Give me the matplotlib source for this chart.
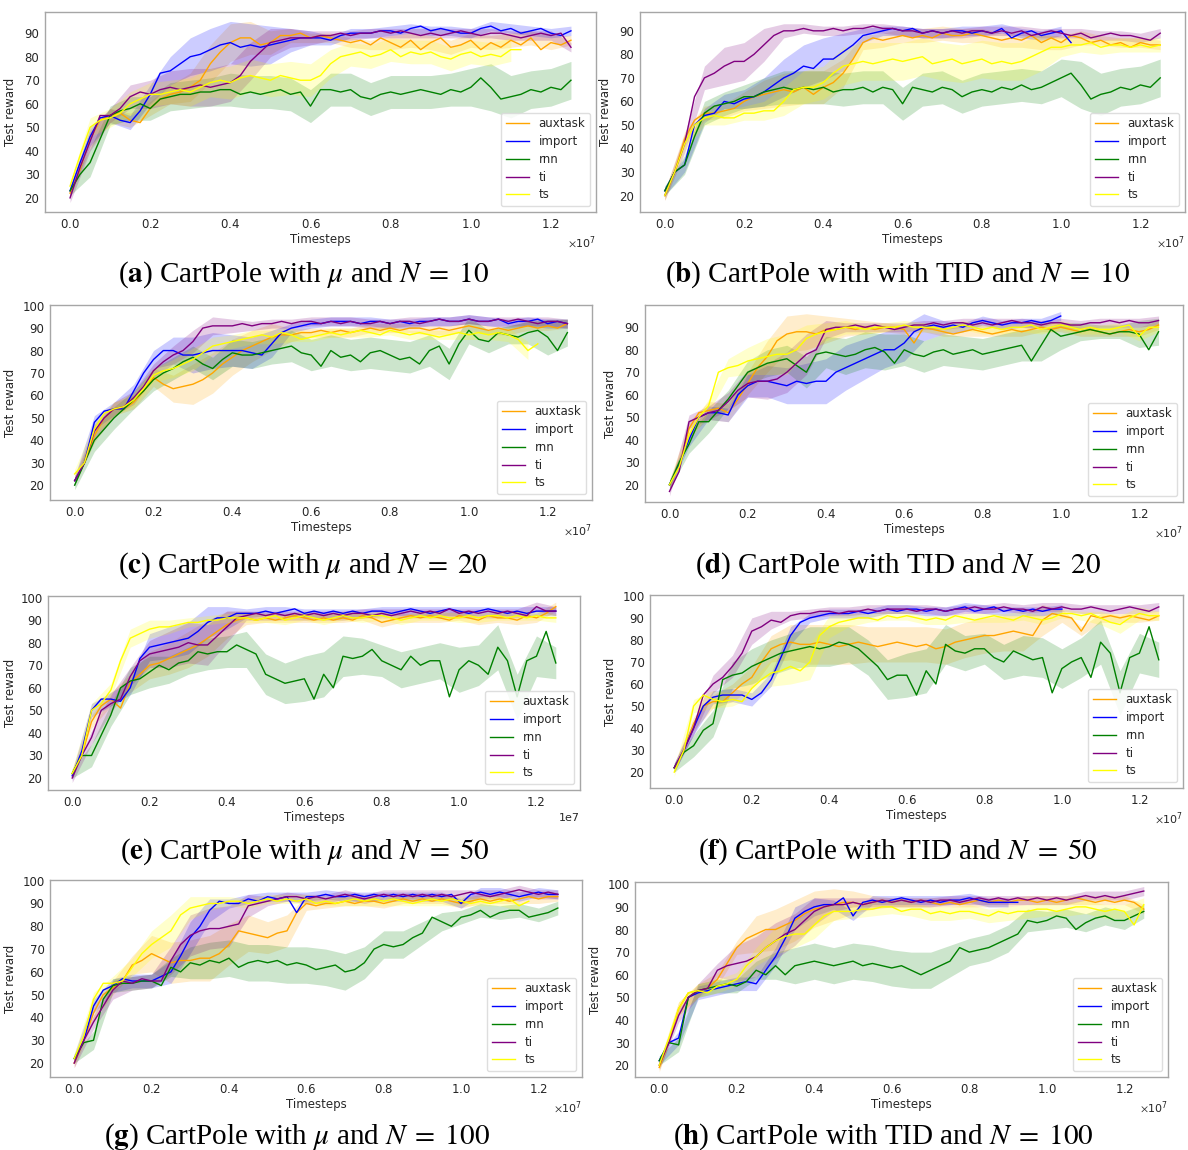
import numpy as np
import matplotlib
matplotlib.use("Agg")
import matplotlib.pyplot as plt
from matplotlib.ticker import MultipleLocator

W, H = 1188, 1150
STEP = 0.025e7  # spacing of the sampled points (timesteps)
NAMES = ["auxtask", "import", "rnn", "ti", "ts"]
COLORS = {"auxtask": "orange", "import": "blue", "rnn": "green",
          "ti": "purple", "ts": "yellow"}

# ---------------- (a) mu, N=10 ----------------
a_auxtask = [22, 32, 45, 53, 55, 56, 53, 52, 58, 62, 64, 65, 67, 70, 77, 82, 86, 88, 88, 85, 86, 89, 89, 90, 88, 89, 88, 87, 86, 87, 85, 88, 86, 84, 87, 83, 86, 88, 84, 85, 87, 83, 86, 84, 87, 85, 88, 83, 86, 85, 87]
a_import = [23, 35, 46, 54, 55, 53, 52, 57, 64, 73, 74, 77, 80, 81, 83, 85, 86, 84, 85, 84, 85, 86, 87, 88, 88, 88, 87, 89, 90, 90, 90, 91, 91, 90, 92, 93, 91, 92, 91, 90, 90, 92, 93, 91, 92, 90, 91, 92, 90, 89, 91]
a_rnn = [23, 30, 35, 45, 55, 57, 58, 60, 58, 62, 63, 64, 64, 65, 65, 66, 66, 64, 65, 64, 65, 66, 64, 65, 59, 66, 66, 65, 66, 63, 62, 64, 65, 64, 65, 66, 65, 64, 66, 65, 67, 71, 67, 62, 63, 64, 66, 65, 67, 66, 70]
a_ti = [20, 33, 44, 55, 55, 58, 63, 65, 64, 66, 67, 66, 67, 68, 67, 68, 69, 72, 78, 82, 86, 87, 88, 88, 88, 89, 89, 90, 89, 90, 90, 91, 90, 91, 90, 89, 90, 89, 90, 91, 90, 89, 90, 90, 89, 88, 89, 90, 89, 90, 84]
a_ts = [25, 38, 50, 53, 54, 56, 60, 62, 64, 64, 65, 66, 65, 67, 69, 70, 69, 71, 72, 71, 70, 72, 71, 70, 70, 72, 77, 80, 81, 82, 80, 81, 83, 80, 82, 81, 82, 80, 79, 81, 82, 80, 81, 80, 83, 83]
a_auxtask_band = [2, 4, 3, 3, 3, 4, 6, 8, 8, 7, 5, 3, 2, 2, 2, 2, 3, 3, 3, 3, 3, 3, 3, 3, 3, 2]
a_import_band = [2, 4, 3, 3, 4, 6, 8, 9, 9, 9, 8, 5, 3, 2, 2, 2, 2, 2, 2, 2, 2, 2, 2, 2, 2, 2]
a_rnn_band = [2, 6, 4, 5, 5, 6, 6, 6, 7, 7, 7, 7, 7, 7, 7, 7, 7, 7, 7, 7, 8, 10, 9, 8, 8, 8]
a_ti_band = [2, 4, 3, 5, 6, 7, 8, 8, 8, 8, 6, 4, 3, 2, 2, 2, 2, 2, 2, 2, 2, 2, 2, 2, 2, 2]
a_ts_band = [2, 4, 4, 5, 5, 5, 6, 6, 7, 7, 7, 7, 7, 6, 5, 5, 5, 5, 5, 5, 5, 5, 5]

# ---------------- (b) TID, N=10 ----------------
b_auxtask = [20, 30, 44, 52, 55, 55, 56, 57, 60, 62, 63, 64, 65, 64, 66, 63, 66, 68, 72, 78, 85, 87, 86, 87, 88, 87, 88, 87, 89, 88, 88, 89, 88, 87, 86, 87, 86, 88, 85, 87, 85, 88, 87, 85, 86, 84, 85, 83, 85, 84, 84]
b_import = [22, 30, 33, 50, 54, 55, 60, 59, 61, 62, 64, 67, 70, 72, 75, 74, 78, 78, 81, 84, 88, 89, 90, 91, 90, 91, 89, 90, 89, 90, 90, 89, 90, 89, 91, 87, 89, 90, 88, 89, 90, 85]
b_rnn = [22, 30, 33, 45, 55, 58, 59, 60, 62, 62, 64, 65, 66, 65, 66, 65, 66, 64, 65, 65, 66, 64, 66, 65, 59, 66, 65, 64, 66, 65, 62, 64, 65, 64, 66, 65, 67, 65, 66, 68, 70, 72, 67, 61, 63, 64, 66, 65, 67, 66, 70]
b_ti = [20, 30, 42, 62, 70, 72, 75, 77, 77, 80, 84, 88, 90, 90, 91, 90, 90, 91, 90, 91, 91, 92, 91, 91, 90, 90, 89, 90, 89, 90, 89, 90, 90, 89, 90, 89, 90, 88, 89, 90, 89, 88, 89, 87, 88, 89, 88, 88, 87, 86, 89]
b_ts = [20, 30, 42, 50, 53, 54, 53, 53, 55, 55, 56, 56, 60, 65, 66, 66, 68, 72, 75, 76, 77, 76, 77, 78, 77, 78, 79, 76, 77, 78, 76, 77, 78, 76, 77, 76, 77, 79, 81, 83, 83, 84, 84, 85, 83, 84, 84, 83, 84, 83, 84]
b_auxtask_band = [2, 3, 3, 3, 4, 6, 7, 7, 7, 6, 3, 3, 3, 3, 3, 3, 3, 3, 3, 3, 3, 3, 2, 2, 2, 2]
b_import_band = [2, 3, 3, 3, 4, 6, 8, 9, 9, 8, 3, 2, 2, 2, 2, 2, 2, 2, 2, 2, 2]
b_rnn_band = [2, 4, 5, 5, 5, 6, 7, 7, 7, 7, 7, 7, 7, 7, 7, 7, 7, 7, 7, 7, 8, 10, 9, 8, 8, 8]
b_ti_band = [2, 4, 5, 8, 8, 7, 3, 2, 2, 2, 2, 2, 2, 2, 2, 2, 2, 2, 2, 2, 2, 2, 2, 2, 2, 2]
b_ts_band = [2, 3, 3, 3, 3, 4, 6, 7, 7, 8, 8, 8, 8, 8, 8, 8, 8, 8, 8, 8, 4, 3, 3, 3, 3, 3]

# ---------------- (c) mu, N=20 ----------------
c_auxtask = [22, 30, 42, 50, 54, 54, 57, 62, 68, 65, 63, 64, 65, 67, 70, 74, 77, 80, 82, 84, 86, 87, 87, 88, 88, 89, 88, 89, 88, 89, 90, 89, 90, 89, 90, 90, 89, 90, 89, 90, 91, 90, 89, 90, 89, 90, 91, 90, 91, 90, 92]
c_import = [22, 30, 48, 53, 54, 54, 62, 70, 76, 80, 80, 78, 78, 79, 80, 80, 80, 80, 79, 78, 83, 88, 90, 91, 92, 92, 93, 93, 93, 92, 93, 93, 92, 93, 92, 93, 93, 94, 93, 93, 94, 93, 93, 94, 92, 93, 93, 94, 92, 93, 92]
c_rnn = [20, 30, 40, 45, 50, 54, 58, 62, 67, 70, 72, 75, 77, 74, 72, 76, 79, 78, 78, 79, 80, 81, 82, 79, 78, 73, 80, 77, 78, 75, 79, 80, 78, 76, 77, 74, 80, 82, 74, 83, 89, 85, 84, 88, 87, 86, 88, 89, 86, 80, 88]
c_ti = [22, 30, 44, 50, 54, 55, 59, 64, 71, 75, 78, 80, 84, 90, 91, 91, 91, 92, 91, 92, 92, 93, 92, 93, 93, 92, 93, 92, 93, 92, 92, 93, 92, 93, 93, 92, 93, 94, 93, 93, 94, 93, 93, 94, 93, 94, 93, 92, 93, 93, 92]
c_ts = [25, 30, 45, 52, 54, 55, 58, 63, 69, 71, 72, 74, 76, 79, 82, 83, 84, 85, 86, 87, 86, 88, 87, 85, 86, 87, 88, 87, 88, 89, 88, 87, 89, 88, 87, 88, 87, 86, 87, 88, 87, 88, 87, 88, 87, 85, 80, 83]
c_auxtask_band = [2, 3, 3, 3, 4, 6, 9, 9, 8, 7, 6, 3, 2, 2, 2, 2, 2, 2, 2, 2, 2, 2, 2, 2, 2, 2]
c_import_band = [2, 3, 3, 3, 4, 6, 8, 8, 7, 7, 6, 2, 2, 2, 2, 2, 2, 2, 2, 2, 2, 2, 2, 2, 2, 2]
c_rnn_band = [2, 5, 5, 4, 5, 5, 5, 5, 6, 6, 6, 7, 7, 7, 7, 7, 7, 7, 7, 7, 6, 5, 4, 5, 8, 6]
c_ti_band = [2, 3, 3, 3, 3, 4, 5, 4, 3, 2, 2, 2, 2, 2, 2, 2, 2, 2, 2, 2, 2, 2, 2, 2, 2, 2]
c_ts_band = [2, 3, 3, 3, 3, 4, 5, 4, 3, 3, 3, 3, 2, 2, 2, 2, 2, 2, 2, 2, 2, 2, 3, 4]

# ---------------- (d) TID, N=20 ----------------
d_auxtask = [20, 28, 45, 52, 53, 54, 52, 58, 65, 72, 77, 84, 87, 88, 88, 87, 89, 89, 90, 89, 90, 89, 90, 90, 89, 83, 90, 89, 88, 87, 88, 89, 88, 87, 88, 89, 88, 89, 90, 89, 90, 89, 88, 89, 88, 87, 88, 89, 88, 89, 91]
d_import = [20, 29, 40, 50, 52, 52, 51, 60, 64, 66, 66, 65, 64, 66, 65, 66, 66, 70, 72, 74, 76, 78, 80, 80, 83, 88, 90, 91, 90, 91, 90, 92, 93, 92, 91, 92, 92, 93, 92, 93, 95]
d_rnn = [20, 30, 38, 48, 48, 53, 58, 64, 70, 72, 74, 75, 76, 73, 70, 78, 79, 78, 77, 78, 80, 81, 79, 74, 80, 78, 77, 79, 80, 78, 79, 80, 78, 79, 80, 81, 82, 75, 82, 89, 86, 87, 88, 89, 88, 87, 88, 88, 87, 80, 88]
d_ti = [17, 26, 48, 50, 52, 53, 57, 62, 65, 66, 66, 67, 70, 74, 78, 80, 89, 90, 90, 91, 90, 91, 90, 89, 90, 91, 91, 92, 91, 92, 92, 91, 92, 91, 92, 93, 92, 92, 91, 92, 92, 91, 91, 92, 92, 93, 92, 93, 92, 92, 93]
d_ts = [20, 28, 42, 50, 55, 70, 72, 73, 75, 76, 77, 78, 78, 80, 85, 87, 88, 89, 90, 90, 89, 90, 90, 90, 91, 90, 90, 90, 89, 90, 91, 90, 89, 90, 89, 90, 90, 91, 89, 90, 91, 90, 89, 90, 89, 89, 90, 91, 86, 90, 90]
d_auxtask_band = [2, 3, 4, 4, 5, 7, 8, 8, 6, 4, 3, 2, 2, 2, 2, 2, 2, 2, 2, 2, 2, 2, 2, 2, 2, 2]
d_import_band = [2, 3, 3, 3, 5, 7, 8, 9, 10, 10, 9, 8, 8, 6, 3, 2, 2, 2, 2, 2, 2]
d_rnn_band = [2, 4, 5, 4, 5, 6, 6, 7, 7, 8, 8, 8, 7, 7, 7, 7, 7, 7, 7, 7, 6, 4, 3, 3, 6, 6]
d_ti_band = [2, 3, 3, 4, 6, 8, 9, 9, 4, 2, 2, 2, 2, 2, 2, 2, 2, 2, 2, 2, 2, 2, 2, 2, 2, 2]
d_ts_band = [2, 3, 3, 4, 6, 8, 9, 6, 4, 3, 2, 2, 2, 2, 2, 2, 2, 2, 2, 2, 2, 2, 2, 2, 2, 2]

# ---------------- (e) mu, N=50 ----------------
e_auxtask = [22, 30, 45, 52, 55, 51, 62, 66, 70, 71, 73, 75, 77, 79, 82, 85, 88, 90, 91, 90, 91, 90, 91, 92, 91, 90, 91, 90, 91, 90, 92, 91, 89, 90, 91, 92, 91, 92, 91, 90, 92, 91, 90, 92, 91, 91, 90, 92, 91, 93, 96]
e_import = [21, 32, 50, 55, 55, 54, 60, 73, 78, 79, 80, 81, 82, 85, 89, 91, 91, 93, 93, 93, 94, 93, 94, 95, 93, 94, 93, 94, 93, 94, 93, 94, 94, 93, 94, 95, 94, 93, 94, 95, 94, 93, 94, 95, 94, 93, 94, 93, 94, 94, 94]
e_rnn = [22, 30, 30, 39, 48, 60, 63, 64, 67, 70, 68, 71, 72, 76, 75, 76, 76, 79, 77, 75, 66, 64, 62, 63, 64, 55, 66, 60, 74, 73, 74, 77, 72, 70, 68, 74, 70, 72, 72, 56, 68, 72, 70, 66, 78, 72, 56, 72, 74, 85, 71]
e_ti = [20, 30, 38, 50, 53, 55, 65, 72, 75, 76, 77, 78, 80, 79, 79, 83, 87, 91, 92, 93, 92, 93, 92, 93, 92, 93, 92, 93, 92, 93, 93, 92, 93, 92, 93, 94, 93, 94, 93, 95, 93, 94, 93, 94, 93, 94, 93, 92, 96, 94, 94]
e_ts = [22, 30, 50, 53, 59, 72, 82, 84, 86, 87, 87, 88, 89, 89, 90, 90, 91, 91, 91, 90, 91, 92, 90, 91, 92, 91, 90, 91, 92, 91, 91, 92, 92, 91, 90, 91, 92, 91, 92, 91, 91, 92, 91, 92, 92, 91, 92, 91, 92, 91, 91]
e_auxtask_band = [2, 3, 3, 4, 6, 7, 8, 8, 6, 3, 2, 2, 2, 2, 2, 2, 2, 2, 2, 2, 2, 2, 2, 2, 2, 2]
e_import_band = [2, 3, 3, 3, 6, 7, 7, 7, 5, 2, 2, 2, 2, 2, 2, 2, 2, 2, 2, 2, 2, 2, 2, 2, 2, 2]
e_rnn_band = [2, 5, 5, 6, 7, 6, 6, 7, 7, 8, 9, 9, 10, 10, 9, 8, 7, 8, 8, 8, 10, 9, 10, 10, 9, 7]
e_ti_band = [2, 3, 4, 4, 6, 8, 9, 9, 7, 2, 2, 2, 2, 2, 2, 2, 2, 2, 2, 2, 2, 2, 2, 2, 2, 2]
e_ts_band = [2, 3, 3, 4, 4, 3, 2, 2, 2, 2, 2, 2, 2, 2, 2, 2, 2, 2, 2, 2, 2, 2, 2, 2, 2, 2]

# ---------------- (f) TID, N=50 ----------------
f_auxtask = [22, 30, 42, 50, 52, 52, 56, 60, 63, 70, 76, 78, 79, 78, 78, 79, 78, 77, 78, 79, 78, 77, 78, 79, 78, 77, 78, 76, 77, 79, 80, 81, 82, 82, 83, 84, 83, 82, 89, 92, 91, 90, 84, 91, 90, 91, 90, 91, 90, 89, 91]
f_import = [22, 30, 40, 50, 54, 55, 55, 55, 53, 56, 62, 72, 82, 88, 90, 91, 92, 92, 92, 93, 92, 93, 94, 93, 94, 94, 93, 94, 93, 94, 95, 93, 94, 95, 93, 94, 93, 94, 93, 94, 94]
f_rnn = [22, 29, 32, 39, 42, 62, 64, 65, 68, 70, 72, 74, 75, 76, 77, 76, 77, 79, 78, 76, 72, 68, 62, 64, 64, 55, 66, 60, 78, 75, 74, 76, 76, 72, 70, 75, 73, 71, 72, 56, 67, 70, 72, 63, 79, 74, 56, 72, 74, 86, 71]
f_ti = [22, 30, 40, 55, 60, 63, 68, 74, 84, 86, 89, 88, 91, 92, 92, 93, 93, 92, 93, 93, 94, 93, 94, 94, 94, 93, 94, 94, 93, 94, 94, 95, 94, 94, 95, 94, 94, 93, 95, 94, 95, 94, 94, 95, 94, 93, 94, 95, 94, 93, 95]
f_ts = [20, 30, 50, 55, 53, 52, 53, 52, 58, 62, 65, 66, 68, 66, 70, 82, 86, 88, 89, 90, 90, 89, 91, 90, 91, 90, 89, 90, 89, 91, 90, 89, 90, 91, 90, 89, 91, 90, 89, 90, 92, 92, 91, 92, 90, 88, 87, 90, 92, 91, 91]
f_auxtask_band = [2, 3, 3, 4, 5, 6, 8, 9, 9, 9, 8, 8, 8, 8, 8, 8, 8, 8, 8, 7, 3, 2, 2, 2, 2, 2]
f_import_band = [2, 3, 3, 3, 3, 3, 4, 2, 2, 2, 2, 2, 2, 2, 2, 2, 2, 2, 2, 2, 2]
f_rnn_band = [2, 5, 6, 6, 8, 8, 8, 9, 9, 8, 8, 9, 10, 10, 9, 8, 7, 8, 9, 9, 9, 9, 10, 10, 9, 8]
f_ti_band = [2, 3, 4, 5, 6, 4, 2, 2, 2, 2, 2, 2, 2, 2, 2, 2, 2, 2, 2, 2, 2, 2, 2, 2, 2, 2]
f_ts_band = [2, 3, 4, 3, 4, 6, 8, 8, 5, 3, 2, 2, 2, 2, 2, 2, 2, 2, 2, 2, 2, 2, 3, 4, 3, 2]

# ---------------- (g) mu, N=100 ----------------
g_auxtask = [20, 30, 42, 50, 53, 56, 63, 65, 68, 66, 64, 65, 65, 66, 66, 68, 72, 78, 77, 76, 75, 77, 78, 86, 90, 89, 90, 90, 91, 90, 91, 91, 90, 91, 92, 91, 92, 91, 92, 91, 90, 91, 92, 91, 92, 91, 92, 93, 92, 93, 93]
g_import = [22, 30, 45, 52, 54, 57, 56, 56, 56, 58, 60, 67, 75, 80, 87, 91, 90, 90, 92, 91, 93, 92, 93, 86, 93, 93, 94, 93, 93, 94, 93, 94, 93, 94, 93, 94, 93, 94, 93, 94, 90, 94, 95, 94, 95, 94, 93, 94, 95, 94, 94]
g_rnn = [22, 29, 30, 48, 54, 55, 55, 56, 56, 54, 62, 60, 64, 63, 65, 64, 66, 62, 64, 65, 64, 65, 63, 64, 63, 61, 62, 63, 60, 61, 64, 70, 72, 71, 72, 75, 77, 84, 82, 80, 84, 85, 87, 84, 86, 87, 87, 84, 85, 86, 88]
g_ti = [20, 30, 38, 45, 52, 56, 55, 57, 56, 56, 65, 72, 76, 78, 79, 79, 80, 81, 89, 90, 91, 92, 93, 93, 92, 93, 92, 93, 94, 93, 92, 93, 94, 93, 94, 93, 94, 93, 94, 93, 94, 95, 94, 93, 94, 95, 96, 95, 94, 95, 94]
g_ts = [22, 32, 48, 55, 55, 56, 62, 68, 72, 75, 78, 85, 88, 89, 90, 90, 91, 91, 90, 91, 92, 91, 92, 91, 92, 90, 91, 90, 91, 92, 91, 92, 91, 92, 91, 90, 91, 92, 91, 92, 91, 90, 91, 90, 91, 92, 89, 91]
g_auxtask_band = [2, 3, 3, 4, 8, 9, 9, 10, 9, 8, 7, 7, 3, 2, 2, 2, 2, 2, 2, 2, 2, 2, 2, 2, 2, 2]
g_import_band = [2, 3, 3, 3, 3, 5, 7, 5, 2, 2, 2, 2, 2, 2, 2, 2, 2, 2, 2, 2, 2, 2, 2, 2, 2, 2]
g_rnn_band = [2, 4, 3, 3, 3, 4, 7, 8, 8, 8, 8, 8, 8, 8, 8, 7, 6, 6, 5, 4, 3, 3, 3, 3, 3, 3]
g_ti_band = [2, 3, 4, 3, 3, 6, 9, 9, 9, 5, 2, 2, 2, 2, 2, 2, 2, 2, 2, 2, 2, 2, 2, 2, 2, 2]
g_ts_band = [2, 3, 3, 4, 6, 7, 5, 3, 2, 2, 2, 2, 2, 2, 2, 2, 2, 2, 2, 2, 2, 2, 2, 2]

# ---------------- (h) TID, N=100 ----------------
h_auxtask = [19, 30, 45, 52, 53, 54, 58, 65, 72, 76, 78, 80, 80, 82, 84, 87, 89, 90, 91, 92, 92, 91, 92, 93, 92, 93, 92, 93, 92, 91, 92, 91, 92, 93, 92, 93, 92, 93, 93, 92, 93, 92, 93, 94, 93, 92, 93, 92, 93, 92, 89]
h_import = [22, 30, 32, 50, 52, 53, 54, 55, 56, 57, 56, 62, 68, 76, 85, 88, 90, 91, 91, 94, 86, 92, 93, 92, 93, 94, 93, 92, 93, 92, 93, 93, 94, 93, 92, 92, 92, 92]
h_rnn = [22, 30, 29, 50, 53, 54, 55, 56, 55, 57, 62, 60, 64, 60, 64, 65, 66, 65, 64, 65, 66, 64, 65, 64, 63, 64, 62, 60, 62, 64, 66, 72, 70, 71, 72, 74, 76, 78, 84, 83, 84, 86, 85, 80, 83, 85, 86, 84, 84, 86, 88]
h_ti = [20, 30, 42, 50, 53, 54, 62, 64, 65, 66, 68, 72, 75, 78, 80, 84, 88, 90, 91, 91, 92, 91, 92, 93, 92, 93, 92, 93, 92, 93, 93, 92, 93, 94, 93, 94, 93, 94, 93, 94, 93, 94, 93, 94, 95, 94, 95, 94, 95, 96, 97]
h_ts = [20, 32, 45, 52, 53, 52, 55, 56, 58, 64, 68, 72, 75, 77, 78, 78, 82, 86, 88, 88, 88, 89, 89, 90, 90, 88, 89, 89, 87, 88, 87, 88, 88, 87, 86, 88, 87, 88, 88, 89, 89, 88, 89, 90, 90, 89, 88, 89, 88, 82, 91]
h_auxtask_band = [2, 3, 3, 3, 3, 8, 9, 9, 8, 7, 5, 3, 2, 2, 2, 2, 2, 2, 2, 2, 2, 2, 2, 2, 2, 2]
h_import_band = [2, 3, 3, 3, 3, 3, 4, 5, 4, 2, 2, 2, 2, 2, 2, 2, 2, 2, 2]
h_rnn_band = [2, 3, 3, 3, 3, 4, 6, 8, 8, 8, 8, 8, 8, 8, 8, 7, 6, 6, 6, 5, 4, 4, 4, 4, 4, 3]
h_ti_band = [2, 3, 3, 3, 8, 9, 8, 7, 6, 3, 2, 2, 2, 2, 2, 2, 2, 2, 2, 2, 2, 2, 2, 2, 2, 2]
h_ts_band = [2, 3, 3, 3, 3, 4, 6, 6, 6, 4, 3, 3, 3, 3, 3, 3, 3, 3, 3, 3, 3, 3, 3, 3, 3, 3]

CAPTIONS = {
    "a": r"CartPole with $\mu$ and $N\;=\;10$",
    "b": r"CartPole with with TID and $N\;=\;10$",
    "c": r"CartPole with $\mu$ and $N\;=\;20$",
    "d": r"CartPole with TID and $N\;=\;20$",
    "e": r"CartPole with $\mu$ and $N\;=\;50$",
    "f": r"CartPole with TID and $N\;=\;50$",
    "g": r"CartPole with $\mu$ and $N\;=\;100$",
    "h": r"CartPole with TID and $N\;=\;100$",
}
YLIMS = {"a": (14, 99), "b": (13, 98), "c": (13.4, 100.3), "d": (12.3, 99.9),
         "e": (14.7, 100.7), "f": (12.8, 100.4), "g": (13.9, 100.3), "h": (14.8, 101)}

# layout in pixels: (left, top, right, bottom) of axes frame; caption centre (x, y)
FRAMES = {"a": (45, 12, 596, 212), "b": (640, 12, 1185, 212),
          "c": (50, 305, 592, 500), "d": (645, 305, 1183, 502),
          "e": (48, 596, 580, 790), "f": (650, 595, 1183, 788),
          "g": (50, 880, 582, 1077), "h": (635, 882, 1168, 1077)}
YLABEL_X = {"a": 17, "b": 612, "c": 17, "d": 617, "e": 17, "f": 617,
            "g": 17, "h": 602}
CAPPOS = {"a": (304, 275), "b": (898, 275), "c": (303, 566), "d": (898, 566),
          "e": (305, 852), "f": (898, 852), "g": (297, 1137), "h": (883, 1137)}

plt.rcParams["mathtext.fontset"] = "stix"
TXT = "#262626"
fig = plt.figure(figsize=(W / 100, H / 100), dpi=100)
g = globals()
for key in "abcdefgh":
    l, t, r, b = FRAMES[key]
    ax = fig.add_axes([l / W, 1 - b / H, (r - l) / W, (b - t) / H])
    for name in NAMES:
        m = np.array(g[f"{key}_{name}"], float)
        x = np.arange(len(m)) * STEP
        bw = np.array(g[f"{key}_{name}_band"], float)
        mb = m[::2]
        n = min(len(bw), len(mb))
        xb = np.arange(n) * 2 * STEP
        ax.fill_between(xb, mb[:n] - bw[:n], mb[:n] + bw[:n],
                        color=COLORS[name], alpha=0.2, lw=0)
        ax.plot(x, m, color=COLORS[name], lw=1.0, label=name)
    ax.set_xlim(-0.0625e7, 1.3125e7)
    ax.set_ylim(*YLIMS[key])
    ax.yaxis.set_major_locator(MultipleLocator(10))
    ax.set_xticks([0, 0.2e7, 0.4e7, 0.6e7, 0.8e7, 1.0e7, 1.2e7])
    ax.ticklabel_format(axis="x", style="sci", scilimits=(0, 0),
                        useMathText=(key != "e"))
    ax.xaxis.get_offset_text().set_fontsize(8)
    ax.xaxis.get_offset_text().set_color(TXT)
    ax.tick_params(length=0, labelsize=8.5, labelcolor=TXT, pad=4)
    for sp in ax.spines.values():
        sp.set_color("0.65")
        sp.set_linewidth(1.0)
    ax.set_xlabel("Timesteps", fontsize=8.5, color=TXT, labelpad=2)
    ax.set_ylabel("Test reward", fontsize=8.5, color=TXT)
    ax.yaxis.set_label_coords((YLABEL_X[key] - l) / (r - l), 0.5)
    leg = ax.legend(loc="lower right", fontsize=8.5, framealpha=0.85,
                    edgecolor="0.85", handlelength=2.0, labelspacing=0.4)
    for txt in leg.get_texts():
        txt.set_color(TXT)
    cx, cy = CAPPOS[key]
    fig.text(cx / W, 1 - cy / H,
             r"($\mathbf{" + key + r"}$) " + CAPTIONS[key],
             ha="center", va="center", fontsize=21,
             family="Liberation Serif", color="black")

fig.savefig("out.png", dpi=100)
